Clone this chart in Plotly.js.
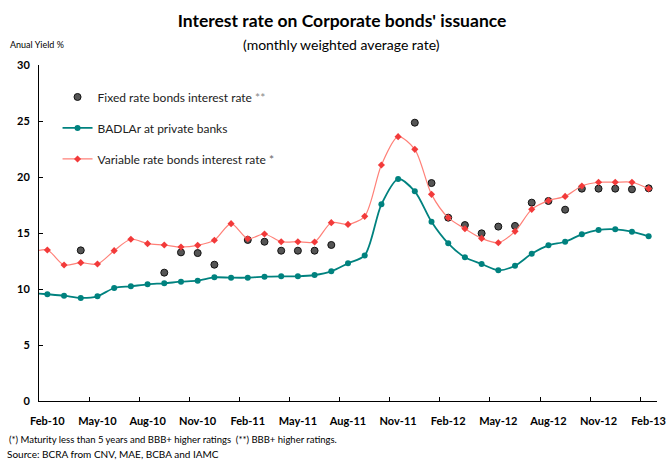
<!DOCTYPE html>
<html>
<head>
<meta charset="utf-8">
<script src="https://cdn.plot.ly/plotly-3.0.1.min.js"></script>
<style>html,body{margin:0;padding:0;background:#fff}#chart{width:668px;height:460px}</style>
</head>
<body>
<div id="chart"></div>
<script>
// Months: index 0 = Jan-10 (just outside the visible range), index 1 = Feb-10 ... index 37 = Feb-13
const months = ["Jan-10","Feb-10","Mar-10","Apr-10","May-10","Jun-10","Jul-10","Aug-10","Sep-10","Oct-10","Nov-10","Dec-10",
  "Jan-11","Feb-11","Mar-11","Apr-11","May-11","Jun-11","Jul-11","Aug-11","Sep-11","Oct-11","Nov-11","Dec-11",
  "Jan-12","Feb-12","Mar-12","Apr-12","May-12","Jun-12","Jul-12","Aug-12","Sep-12","Oct-12","Nov-12","Dec-12",
  "Jan-13","Feb-13"];

const fixedRate = [null,null,null,13.45,null,null,null,null,11.46,13.27,13.21,12.17,
  null,14.38,14.22,13.42,13.42,13.42,13.93,null,null,null,null,24.85,
  19.46,16.37,15.71,14.97,15.57,15.63,17.71,17.86,17.08,18.96,18.96,18.96,
  18.90,18.99];

const badlar = [9.65,9.53,9.40,9.20,9.35,10.09,10.24,10.42,10.51,10.65,10.74,11.04,
  11.01,11.01,11.10,11.13,11.13,11.25,11.58,12.29,13.00,17.56,19.82,18.72,
  16.01,14.08,12.83,12.23,11.67,12.08,13.15,13.90,14.22,14.88,15.27,15.33,
  15.12,14.70];

const variableRate = [13.25,13.48,12.14,12.35,12.23,13.42,14.44,14.05,13.93,13.75,13.90,14.35,
  15.83,14.49,14.91,14.22,14.22,14.20,15.92,15.77,16.49,21.07,23.60,22.47,
  18.45,16.37,15.38,14.52,14.13,15.15,17.11,17.89,18.27,19.20,19.53,19.53,
  19.53,18.96];

const tickLabels = ["Feb-10","May-10","Aug-10","Nov-10","Feb-11","May-11","Aug-11","Nov-11","Feb-12","May-12","Aug-12","Nov-12","Feb-13"];
const yTicks = [0,5,10,15,20,25,30];

const xIdx = months.map((m, i) => i);
const labelPos = tickLabels.map(l => months.indexOf(l));
const boundaryPos = labelPos.slice(1).map(p => p - 0.5);

const FONT = "Lato, 'Open Sans', sans-serif";

const traces = [
  {
    x: xIdx, y: fixedRate, name: "Fixed rate bonds interest rate <span style='color:#888'>**</span>",
    type: "scatter", mode: "markers", legendgroup: "a",
    marker: {color: "#555555", size: 7, line: {color: "#111111", width: 1}},
    hoverinfo: "skip"
  },
  {
    x: xIdx, y: badlar, name: "BADLAr at private banks",
    type: "scatter", mode: "lines+markers", legendgroup: "b",
    line: {color: "#00827f", width: 1.8, shape: "spline", smoothing: 0.8},
    marker: {color: "#00827f", size: 6, symbol: "circle"},
    hoverinfo: "skip"
  },
  {
    x: xIdx, y: variableRate, name: "Variable rate bonds interest rate <span style='color:#666'>*</span>",
    type: "scatter", mode: "lines+markers", legendgroup: "c",
    line: {color: "#ff8078", width: 1.2, shape: "spline", smoothing: 0.8},
    marker: {color: "#f23a3a", size: 5.5, symbol: "diamond"},
    hoverinfo: "skip"
  },
  {
    x: [], y: [], xaxis: "x2", yaxis: "y", type: "scatter", mode: "markers",
    showlegend: false, hoverinfo: "skip"
  }
];

const layout = {
  width: 668, height: 460,
  margin: {l: 39, r: 11, t: 65, b: 59},
  paper_bgcolor: "#ffffff", plot_bgcolor: "#ffffff",
  font: {family: FONT, color: "#000"},
  showlegend: true,
  title: {
    text: "<b>Interest rate on Corporate bonds' issuance</b>",
    font: {family: FONT, size: 17.5, color: "#000"},
    x: 0.512, xanchor: "center", y: 0.955, yanchor: "middle", yref: "container"
  },
  legend: {
    x: 0.03, y: 0.948, xanchor: "left", yanchor: "top",
    bgcolor: "rgba(0,0,0,0)", borderwidth: 0,
    font: {family: FONT, size: 12, color: "#222"},
    traceorder: "grouped", tracegroupgap: 12, itemwidth: 30
  },
  xaxis: {
    range: [0.5, 37.5], tickmode: "array", tickvals: labelPos, ticktext: tickLabels,
    ticks: "", showline: true, linecolor: "#000", linewidth: 1,
    showgrid: false, zeroline: false,
    tickfont: {family: FONT, size: 11, color: "#000", weight: "bold"},
    ticklabelstandoff: 10
  },
  xaxis2: {
    range: [0.5, 37.5], overlaying: "x", anchor: "y", side: "bottom",
    tickmode: "array", tickvals: boundaryPos, ticks: "inside", ticklen: 4, tickcolor: "#000",
    showticklabels: false, showgrid: false, zeroline: false, showline: false
  },
  yaxis: {
    range: [0, 30], tickmode: "array", tickvals: yTicks,
    ticks: "inside", ticklen: 4, tickcolor: "#000",
    showline: true, linecolor: "#000", linewidth: 1,
    showgrid: false, zeroline: false,
    tickfont: {family: FONT, size: 11, color: "#000", weight: "bold"},
    ticklabelstandoff: 6
  },
  annotations: [
    {text: "(monthly weighted average rate)", xref: "paper", yref: "paper",
     x: 0.49, y: 1.06, xanchor: "center", yanchor: "middle", showarrow: false,
     font: {family: FONT, size: 14, color: "#000"}},
    {text: "Anual Yield %", xref: "paper", yref: "paper",
     x: -0.05, y: 1.06, xanchor: "left", yanchor: "middle", showarrow: false,
     font: {family: FONT, size: 9, color: "#000"}},
    {text: "(*) Maturity less than 5 years and BBB+ higher ratings  (**) BBB+ higher ratings.", xref: "paper", yref: "paper",
     x: -0.052, y: -0.115, xanchor: "left", yanchor: "middle", showarrow: false,
     font: {family: FONT, size: 9.5, color: "#000"}},
    {text: "Source: BCRA from CNV, MAE, BCBA and IAMC", xref: "paper", yref: "paper",
     x: -0.055, y: -0.158, xanchor: "left", yanchor: "middle", showarrow: false,
     font: {family: FONT, size: 10, color: "#000"}}
  ]
};

Plotly.newPlot("chart", traces, layout, {staticPlot: true, displayModeBar: false});
</script>
</body>
</html>
